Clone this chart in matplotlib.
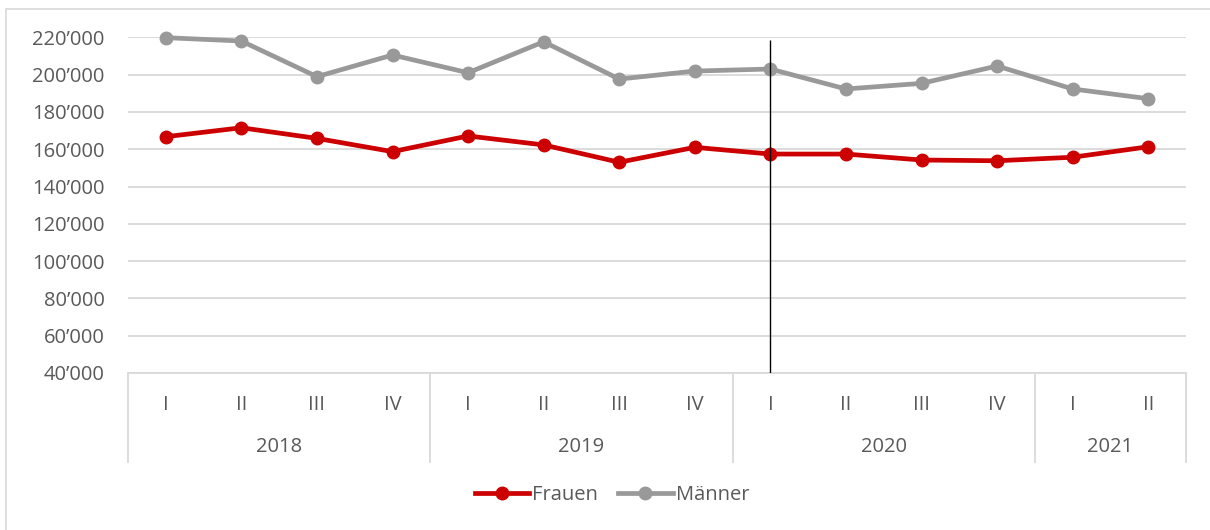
import matplotlib
matplotlib.use("Agg")
import matplotlib.pyplot as plt
from matplotlib.patches import Rectangle
from matplotlib.ticker import FuncFormatter
import matplotlib.transforms as mtransforms

quarters = ["I", "II", "III", "IV", "I", "II", "III", "IV", "I", "II", "III", "IV", "I", "II"]
years = ["2018", "2019", "2020", "2021"]
year_counts = [4, 4, 4, 2]
frauen = [166700, 171500, 165800, 158700, 167100, 162300, 153000, 161000,
          157400, 157400, 154200, 153800, 155700, 161300]
maenner = [219800, 218000, 198900, 210500, 201000, 217600, 197600, 201900,
           203000, 192300, 195300, 204600, 192300, 187100]
marker_index = 8
marker_top = 218500

plt.rcParams['font.family'] = ['Open Sans', 'DejaVu Sans']
txt = '#595959'
fs = 14.5
fig = plt.figure(figsize=(12.1, 5.3), dpi=100)
fig.patches.append(Rectangle((6/1210, -0.1), 1.2, 1 - 9/530 + 0.1, transform=fig.transFigure,
                             fill=False, edgecolor='#D9D9D9', linewidth=1.2))
ax = fig.add_axes([128/1210, 1 - 373/530, (1186 - 128)/1210, (373 - 37.3)/530])

x = list(range(len(quarters)))
ax.plot(x, frauen, color='#CC0000', lw=3.4, marker='o', ms=9, label='Frauen', zorder=3, clip_on=False)
ax.plot(x, maenner, color='#999999', lw=3.4, marker='o', ms=9, label='Männer', zorder=3, clip_on=False)
ax.vlines(marker_index, 40000, marker_top, color='black', lw=1, zorder=4)

ax.set_xlim(-0.5, len(quarters) - 0.5)
ax.set_ylim(40000, 220000)
ax.set_yticks(range(40000, 220001, 20000))
ax.yaxis.set_major_formatter(FuncFormatter(lambda v, p: f"{int(v):,}".replace(",", "’")))
ax.grid(axis='y', color='#D9D9D9', lw=1.3)
ax.set_axisbelow(True)
for s in ['top', 'right', 'left']:
    ax.spines[s].set_visible(False)
ax.spines['bottom'].set_color('#D9D9D9')
ax.spines['bottom'].set_linewidth(1.3)
ax.tick_params(axis='y', length=0, pad=17, labelsize=fs, labelcolor=txt)
ax.set_xticks(x)
ax.set_xticklabels(quarters)
ax.tick_params(axis='x', length=0, pad=16, labelsize=fs, labelcolor=txt)

tr = mtransforms.blended_transform_factory(ax.transData, ax.transAxes)
bottom = -(462 - 373) / (373 - 37.3)
start = -0.5
bounds = [start]
for name, n in zip(years, year_counts):
    end = start + n
    ax.text((start + end) / 2, -(447 - 373) / (373 - 37.3), name, transform=tr,
            ha='center', va='center', fontsize=fs, color=txt)
    bounds.append(end)
    start = end
for b in bounds:
    ax.plot([b, b], [0, bottom], transform=tr, color='#D9D9D9', lw=1.3, clip_on=False)

leg = fig.legend(loc='center', bbox_to_anchor=(612/1210, 1 - 495/530), ncol=2, frameon=False,
                 fontsize=fs, handlelength=2.7, handletextpad=0.15, columnspacing=1.0,
                 labelcolor=txt)

fig.savefig('out.png', dpi=100)
